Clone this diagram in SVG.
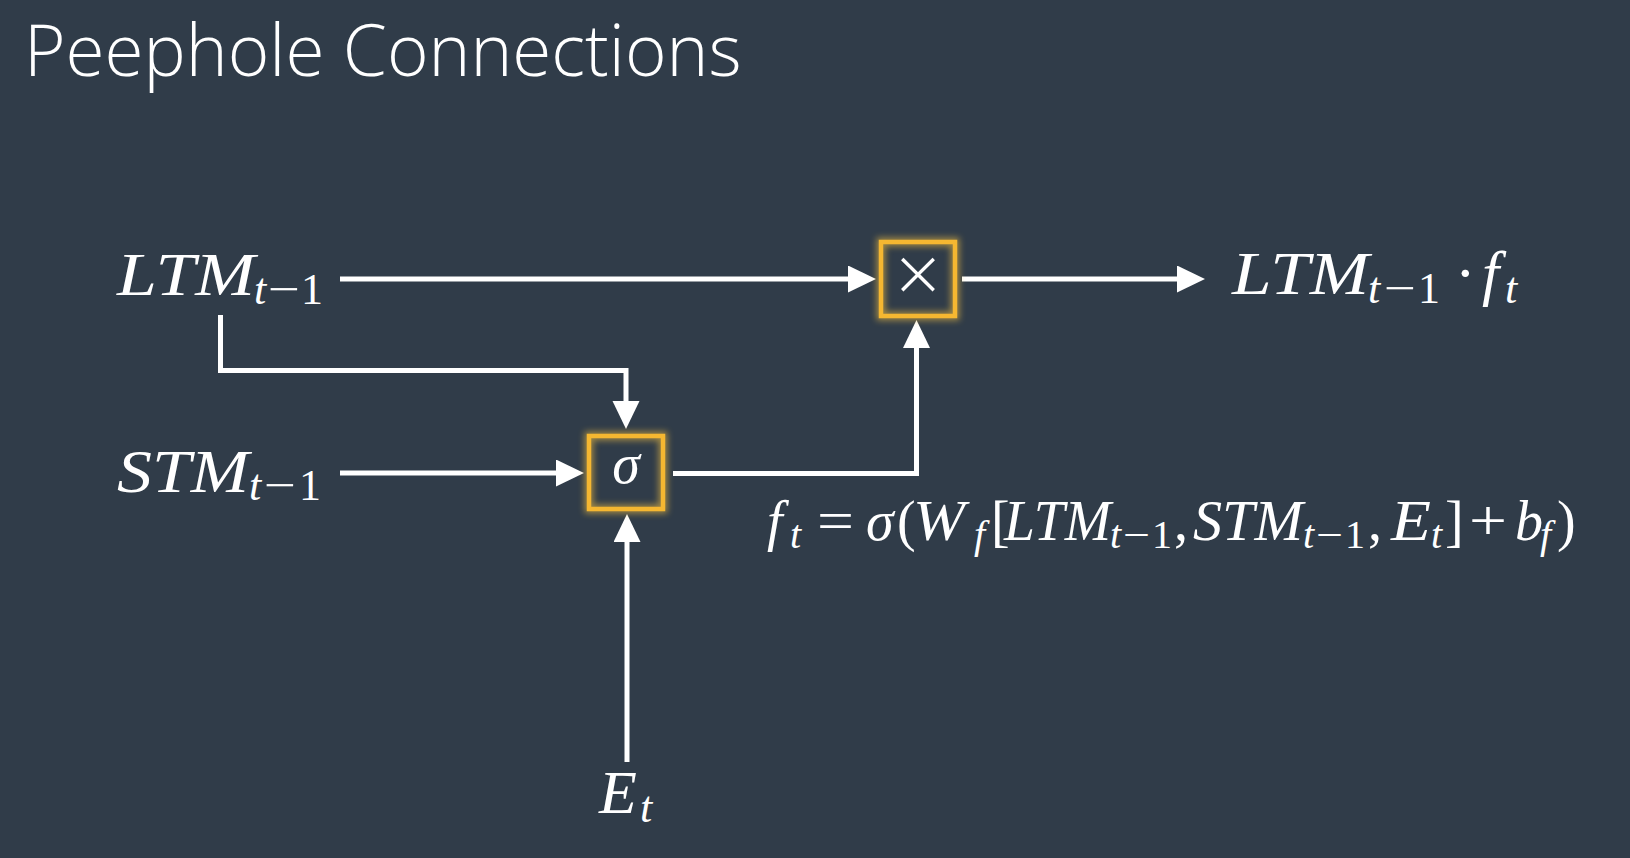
<svg xmlns="http://www.w3.org/2000/svg" width="1630" height="858" viewBox="0 0 1630 858">
<defs>
<style>
.bg{fill:#303c49}
.title{font-family:"Open Sans",sans-serif;font-weight:300;font-size:71px;fill:#ffffff}
.m{font-family:"Liberation Serif","DejaVu Serif",serif;fill:#ffffff}
.i{font-style:italic}
.big{font-size:62px}
.sub{font-size:44px}
.fb{font-size:56px}
.fs{font-size:40px}
.wire{fill:none;stroke:#ffffff;stroke-width:5;stroke-linejoin:miter}
.gate{fill:none;stroke:#f5b731;stroke-width:4.5}
.glow{fill:none;stroke:#f8c440;stroke-width:9;opacity:0.55}
.op{font-family:"Open Sans",sans-serif;font-weight:300;font-size:78px;fill:#ffffff}
</style>
<marker id="ah" markerUnits="userSpaceOnUse" markerWidth="29" markerHeight="28" refX="1" refY="13.5" orient="auto">
<path d="M0,0 L28,13.5 L0,27 Z" fill="#ffffff"/>
</marker>
<filter id="blur" x="-30%" y="-30%" width="160%" height="160%">
<feGaussianBlur stdDeviation="3"/>
</filter>
</defs>
<rect class="bg" x="0" y="0" width="1630" height="858"/>

<g id="title">
<text class="title" x="24" y="76">Peephole Connections</text>
</g>

<g id="connectors">
<path class="wire" d="M340,279 H849" marker-end="url(#ah)"/>
<path class="wire" d="M962,279 H1178" marker-end="url(#ah)"/>
<path class="wire" d="M220.5,315 V370.5 H626 V402" marker-end="url(#ah)"/>
<path class="wire" d="M340,473 H557" marker-end="url(#ah)"/>
<path class="wire" d="M673,473.5 H916.5 V347" marker-end="url(#ah)"/>
<path class="wire" d="M627,762 V541" marker-end="url(#ah)"/>
</g>

<g id="ltm-input">
<text class="m i big" x="117" y="295" textLength="138" lengthAdjust="spacingAndGlyphs">LTM</text>
<text class="m i sub" x="254" y="304">t</text>
<text class="m sub" x="268" y="304" textLength="32" lengthAdjust="spacingAndGlyphs">−</text>
<text class="m sub" x="301" y="304">1</text>
</g>

<g id="stm-input">
<text class="m i big" x="117" y="492" textLength="132" lengthAdjust="spacingAndGlyphs">STM</text>
<text class="m i sub" x="249" y="500">t</text>
<text class="m sub" x="264" y="500" textLength="32" lengthAdjust="spacingAndGlyphs">−</text>
<text class="m sub" x="299" y="500">1</text>
</g>

<g id="e-input">
<text class="m i big" x="599" y="813">E</text>
<text class="m i sub" x="640" y="822">t</text>
</g>

<g id="sigma-gate">
<rect class="glow" x="589" y="436" width="74" height="73" filter="url(#blur)"/>
<rect class="gate" x="589" y="436" width="74" height="73"/>
<text class="m i fb" x="626" y="483" text-anchor="middle">σ</text>
</g>

<g id="multiply-gate">
<rect class="glow" x="881" y="242" width="74" height="74" filter="url(#blur)"/>
<rect class="gate" x="881" y="242" width="74" height="74"/>
<text class="op" x="918" y="302" text-anchor="middle">×</text>
</g>

<g id="output">
<text class="m i big" x="1232" y="294" textLength="137" lengthAdjust="spacingAndGlyphs">LTM</text>
<text class="m i sub" x="1368" y="303">t</text>
<text class="m sub" x="1384" y="303" textLength="32" lengthAdjust="spacingAndGlyphs">−</text>
<text class="m sub" x="1418" y="303">1</text>
<text class="m big" x="1455" y="294">·</text>
<text class="m i big" x="1482" y="294">f</text>
<text class="m i sub" x="1505" y="303">t</text>
</g>

<g id="formula">
<text class="m i fb" x="767" y="540">f</text>
<text class="m i fs" x="790" y="548">t</text>
<text class="m fb" x="817" y="540" textLength="37" lengthAdjust="spacingAndGlyphs">=</text>
<text class="m i fb" x="866" y="540">σ</text>
<text class="m fb" x="897" y="540">(</text>
<text class="m i fb" x="913" y="540" textLength="52" lengthAdjust="spacingAndGlyphs">W</text>
<text class="m i fs" x="974" y="548">f</text>
<text class="m fb" x="991" y="540">[</text>
<text class="m i fb" x="1004" y="540" textLength="107" lengthAdjust="spacingAndGlyphs">LTM</text>
<text class="m i fs" x="1110" y="548">t</text>
<text class="m fs" x="1123" y="548" textLength="27" lengthAdjust="spacingAndGlyphs">−</text>
<text class="m fs" x="1152" y="548">1</text>
<text class="m fb" x="1174" y="540">,</text>
<text class="m i fb" x="1193" y="540" textLength="110" lengthAdjust="spacingAndGlyphs">STM</text>
<text class="m i fs" x="1303" y="548">t</text>
<text class="m fs" x="1316" y="548" textLength="27" lengthAdjust="spacingAndGlyphs">−</text>
<text class="m fs" x="1345" y="548">1</text>
<text class="m fb" x="1368" y="540">,</text>
<text class="m i fb" x="1391" y="540" textLength="40" lengthAdjust="spacingAndGlyphs">E</text>
<text class="m i fs" x="1431" y="548">t</text>
<text class="m fb" x="1445" y="540">]</text>
<text class="m fb" x="1469" y="540" textLength="38" lengthAdjust="spacingAndGlyphs">+</text>
<text class="m i fb" x="1515" y="540">b</text>
<text class="m i fs" x="1540" y="548">f</text>
<text class="m fb" x="1557" y="540">)</text>
</g>
</svg>
